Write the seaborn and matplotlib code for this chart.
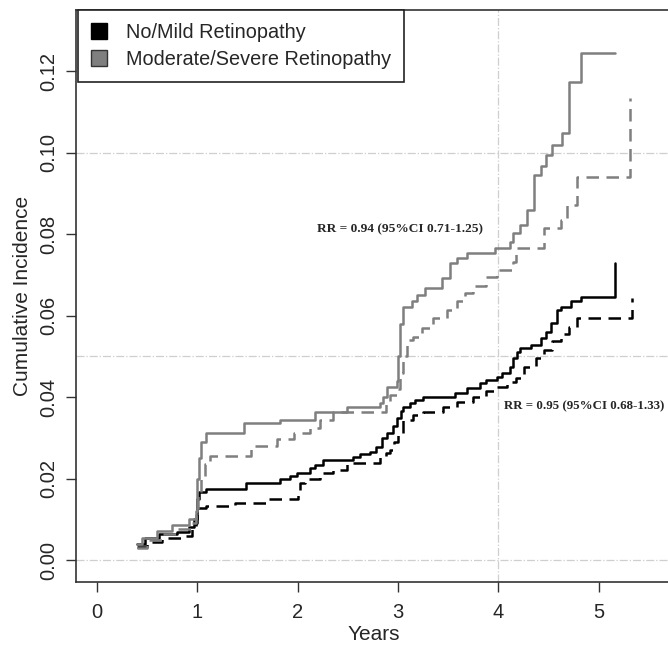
"""Cumulative incidence by retinopathy grade (step curves)."""

import numpy as np
import pandas as pd
import matplotlib
matplotlib.use("Agg")
import matplotlib.pyplot as plt
from matplotlib.patches import Patch
import seaborn as sns

# --- data ------------------------------------------------------------------
nomild_solid_t = [0.40, 0.48, 0.62, 0.80, 0.92, 0.97, 1.00, 1.02, 1.09, 1.48, 1.82, 1.92,
                  1.99, 2.12, 2.17, 2.25, 2.55, 2.62, 2.72, 2.78, 2.84, 2.89, 2.95, 2.99,
                  3.03, 3.05, 3.12, 3.17, 3.25, 3.57, 3.69, 3.82, 3.88, 3.99, 4.04, 4.12,
                  4.15, 4.19, 4.22, 4.32, 4.42, 4.47, 4.52, 4.58, 4.62, 4.72, 4.82, 5.16]
nomild_solid_y = [0.0040, 0.0055, 0.0065, 0.0070, 0.0080, 0.0100, 0.0150, 0.0168, 0.0175,
                  0.0188, 0.0200, 0.0207, 0.0213, 0.0225, 0.0233, 0.0246, 0.0254, 0.0260,
                  0.0266, 0.0278, 0.0300, 0.0312, 0.0328, 0.0350, 0.0365, 0.0377, 0.0385,
                  0.0393, 0.0401, 0.0410, 0.0422, 0.0434, 0.0442, 0.0450, 0.0459, 0.0475,
                  0.0496, 0.0510, 0.0520, 0.0528, 0.0545, 0.0561, 0.0582, 0.0614, 0.0622,
                  0.0635, 0.0647, 0.0729]

nomild_dash_t = [0.40, 0.50, 0.65, 0.85, 0.95, 0.99, 1.00, 1.09, 1.37, 1.69, 2.00, 2.02,
                 2.07, 2.22, 2.35, 2.49, 2.82, 2.88, 2.92, 2.96, 3.00, 3.05, 3.15, 3.25,
                 3.45, 3.59, 3.75, 3.88, 3.99, 4.09, 4.18, 4.25, 4.37, 4.45, 4.53, 4.62,
                 4.70, 4.78, 5.33]
nomild_dash_y = [0.0033, 0.0045, 0.0055, 0.0060, 0.0075, 0.0090, 0.0128, 0.0132, 0.0139,
                 0.0150, 0.0160, 0.0190, 0.0200, 0.0213, 0.0221, 0.0238, 0.0254, 0.0262,
                 0.0270, 0.0290, 0.0311, 0.0344, 0.0356, 0.0364, 0.0377, 0.0389, 0.0401,
                 0.0414, 0.0426, 0.0438, 0.0446, 0.0475, 0.0496, 0.0515, 0.0537, 0.0555,
                 0.0573, 0.0594, 0.0643]

modsev_solid_t = [0.40, 0.45, 0.60, 0.75, 0.92, 0.99, 1.00, 1.02, 1.04, 1.09, 1.46, 1.82,
                  2.17, 2.49, 2.82, 2.85, 2.89, 2.99, 3.00, 3.02, 3.05, 3.14, 3.19, 3.27,
                  3.44, 3.52, 3.59, 3.69, 3.97, 4.12, 4.15, 4.22, 4.28, 4.35, 4.42, 4.47,
                  4.53, 4.63, 4.70, 4.82, 5.16]
modsev_solid_y = [0.0040, 0.0055, 0.0072, 0.0085, 0.0100, 0.0120, 0.0200, 0.0250, 0.0290,
                  0.0313, 0.0336, 0.0344, 0.0364, 0.0377, 0.0385, 0.0400, 0.0426, 0.0440,
                  0.0500, 0.0580, 0.0622, 0.0635, 0.0650, 0.0668, 0.0693, 0.0730, 0.0742,
                  0.0754, 0.0766, 0.0782, 0.0803, 0.0823, 0.0860, 0.0946, 0.0968, 0.0995,
                  0.1020, 0.1048, 0.1173, 0.1246, 0.1246]

modsev_dash_t = [0.40, 0.50, 0.65, 0.80, 0.95, 0.99, 1.01, 1.04, 1.08, 1.13, 1.53, 1.79,
                 1.96, 2.12, 2.22, 2.35, 2.88, 2.92, 2.99, 3.02, 3.05, 3.09, 3.15, 3.24,
                 3.35, 3.49, 3.59, 3.67, 3.75, 3.88, 3.99, 4.15, 4.18, 4.45, 4.62, 4.68,
                 4.78, 5.31]
modsev_dash_y = [0.0030, 0.0050, 0.0065, 0.0075, 0.0090, 0.0110, 0.0160, 0.0200, 0.0235,
                 0.0256, 0.0279, 0.0297, 0.0311, 0.0324, 0.0344, 0.0364, 0.0385, 0.0405,
                 0.0420, 0.0460, 0.0500, 0.0540, 0.0549, 0.0569, 0.0594, 0.0614, 0.0635,
                 0.0655, 0.0672, 0.0696, 0.0713, 0.0733, 0.0766, 0.0815, 0.0835, 0.0872,
                 0.0942, 0.1134]

groups = ["No/Mild Retinopathy", "Moderate/Severe Retinopathy"]
x_ticks = [0, 1, 2, 3, 4, 5]
y_ticks = [0.00, 0.02, 0.04, 0.06, 0.08, 0.10, 0.12]
rr_labels = ["RR = 0.94 (95%CI 0.71-1.25)", "RR = 0.95 (95%CI 0.68-1.33)"]

# --- long table for seaborn -------------------------------------------------
parts = []
for g, ep, t, y in [
    (groups[0], "solid", nomild_solid_t, nomild_solid_y),
    (groups[0], "dashed", nomild_dash_t, nomild_dash_y),
    (groups[1], "solid", modsev_solid_t, modsev_solid_y),
    (groups[1], "dashed", modsev_dash_t, modsev_dash_y),
]:
    parts.append(pd.DataFrame({"time": t, "cuminc": y, "group": g, "line": ep}))
df = pd.concat(parts, ignore_index=True)

sns.set_theme(style="white")
plt.rcParams["font.family"] = ["Liberation Sans", "DejaVu Sans"]

colors = {groups[0]: "#000000", groups[1]: "#7f7f7f"}

fig = plt.figure(figsize=(6.68, 6.49), dpi=100)
ax = fig.add_axes([76 / 668, 67 / 649, 595 / 668, 572 / 649])

# reference lines (R-style dash-dot grid)
for yv in [0.0, 0.05, 0.10]:
    ax.axhline(yv, color="#cfcfcf", lw=0.9, ls="-.", zorder=0)
ax.axvline(4, color="#cfcfcf", lw=0.9, ls="-.", zorder=0)

sns.lineplot(data=df, x="time", y="cuminc", hue="group", style="line",
             palette=colors, dashes={"solid": "", "dashed": (5, 3)},
             estimator=None, drawstyle="steps-post", linewidth=1.8,
             legend=False, ax=ax)

ax.set_xlim(-0.21, 5.72)
ax.set_ylim(-0.0054, 0.1351)
ax.set_xticks(x_ticks)
ax.set_yticks(y_ticks)
ax.set_yticklabels([f"{v:.2f}" for v in y_ticks], rotation=90, va="center")
ax.tick_params(axis="both", length=7, width=1, color="#333333", labelsize=14.5,
               left=True, bottom=True, pad=6)
ax.tick_params(axis="x", pad=8)
ax.set_xlabel("Years", fontsize=15, labelpad=2)
ax.set_ylabel("Cumulative Incidence", fontsize=15, labelpad=5)
for side in ["left", "bottom", "top", "right"]:
    ax.spines[side].set_color("#333333")
    ax.spines[side].set_linewidth(1.2)

ax.text(3.02, 0.0813, rr_labels[0], family=["Liberation Serif", "DejaVu Serif"],
        fontweight="bold", fontsize=9.6, ha="center", va="center")
ax.text(4.85, 0.0378, rr_labels[1], family=["Liberation Serif", "DejaVu Serif"],
        fontweight="bold", fontsize=9.3, ha="center", va="center")

handles = [Patch(facecolor="#000000", edgecolor="#000000"),
           Patch(facecolor="#7f7f7f", edgecolor="#333333")]
leg = ax.legend(handles, groups, loc="upper left", bbox_to_anchor=(0.003, 1.0),
                borderaxespad=0, fancybox=False, framealpha=1, edgecolor="#222222",
                fontsize=14.3, handlelength=0.8, handleheight=0.8, handletextpad=1.0,
                borderpad=0.65, labelspacing=0.4)
leg.get_frame().set_linewidth(1.2)

fig.savefig("out.png", dpi=100)
